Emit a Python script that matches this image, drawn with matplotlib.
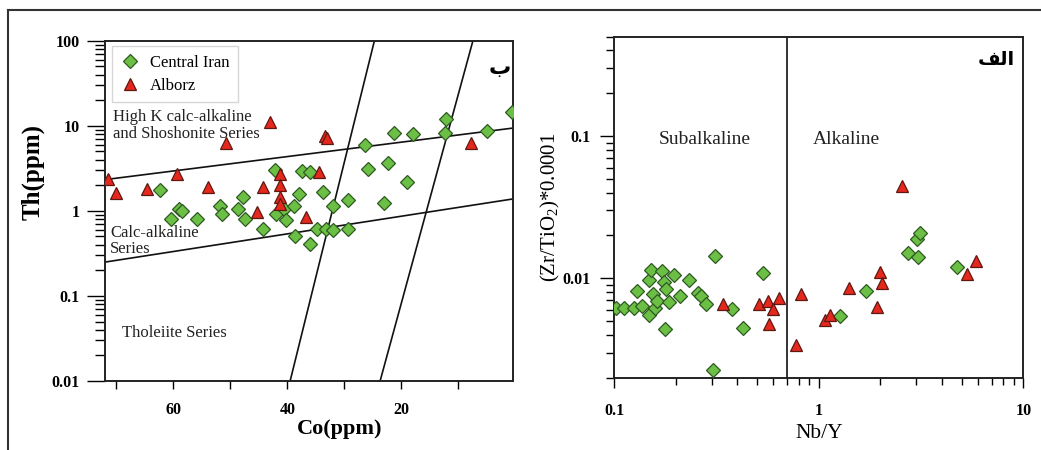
import matplotlib
matplotlib.use("Agg")
import matplotlib.pyplot as plt
from matplotlib.lines import Line2D
from matplotlib.ticker import FixedLocator, FixedFormatter, LogLocator, NullFormatter

plt.rcParams['font.family'] = ['Liberation Serif', 'DejaVu Sans']
plt.rcParams['mathtext.fontset'] = 'custom'
plt.rcParams['mathtext.rm'] = 'Liberation Serif'
plt.rcParams['mathtext.it'] = 'Liberation Serif:italic'

# ---- left panel: Th vs Co ----
ci_co = [62.4, 60.5, 59.1, 58.5, 55.8, 51.8, 51.5, 48.7, 47.8, 47.4, 44.3, 42.1, 42.0,
         40.5, 40.2, 38.9, 38.6, 37.9, 37.5, 36.0, 36.0, 34.8, 33.8, 33.2, 32.0, 31.9,
         29.4, 29.4, 26.4, 25.9, 23.1, 22.3, 21.3, 19.0, 18.0, 12.2, 12.3, 4.9, 0.5]
ci_th = [1.75, 0.81, 1.05, 1.0, 0.81, 1.15, 0.93, 1.05, 1.46, 0.81, 0.62, 3.05, 0.93,
         1.05, 0.79, 1.15, 0.50, 1.58, 2.92, 2.86, 0.41, 0.62, 1.66, 0.62, 0.60, 1.13,
         1.36, 0.62, 6.0, 3.1, 1.24, 3.65, 8.2, 2.19, 8.1, 12.1, 8.2, 8.6, 14.5]
al_co = [71.5, 70.1, 64.6, 59.4, 54.0, 50.8, 45.3, 44.2, 43.0, 41.3, 41.2, 41.3, 41.3,
         36.7, 34.5, 33.3, 33.0, 7.7]
al_th = [2.39, 1.63, 1.81, 2.74, 1.89, 6.2, 0.97, 1.89, 11.1, 2.74, 2.0, 1.46, 1.19,
         0.84, 2.86, 7.5, 7.2, 6.3]

# field boundaries (Co, Th end points)
bound_co = [[72, 0.4], [72, 0.4], [24.7, 39.5], [7.4, 23.7]]
bound_th = [[2.33, 9.4], [0.25, 1.38], [100, 0.01], [100, 0.01]]

co_ticks = [70, 60, 50, 40, 30, 20, 10]
co_labels = ["", "60", "", "40", "", "20", ""]
th_ticks = [0.01, 0.1, 1, 10, 100]
th_labels = ["0.01", "0.1", "1", "10", "100"]

# ---- right panel: Zr/TiO2 vs Nb/Y ----
ci_nby = [0.102, 0.111, 0.125, 0.129, 0.137, 0.147, 0.148, 0.152, 0.154, 0.158, 0.161,
          0.172, 0.175, 0.180, 0.186, 0.176, 0.196, 0.210, 0.233, 0.258, 0.266, 0.281,
          0.311, 0.303, 0.378, 0.428, 0.535, 1.27, 1.71, 2.74, 3.07, 3.03, 3.12, 4.75]
ci_zr = [0.00618, 0.00618, 0.0062, 0.0081, 0.00635, 0.00554, 0.00966, 0.0114, 0.00777,
         0.00618, 0.00689, 0.01127, 0.00946, 0.00834, 0.00682, 0.0044, 0.01054, 0.00756,
         0.00966, 0.00791, 0.00749, 0.00659, 0.01439, 0.00225, 0.0061, 0.0045, 0.01096,
         0.0054, 0.0082, 0.01496, 0.01415, 0.0189, 0.0207, 0.01202]
al_nby = [0.339, 0.512, 0.566, 0.600, 0.641, 0.573, 0.773, 0.815, 2.54, 1.07, 1.13, 1.41,
          1.99, 2.03, 1.92, 5.28, 5.87]
al_zr = [0.00659, 0.00659, 0.00697, 0.0061, 0.00728, 0.00475, 0.00339, 0.00777, 0.0446,
         0.0051, 0.00555, 0.00857, 0.01114, 0.0093, 0.00628, 0.01067, 0.01327]
nby_split = 0.7

green, green_edge = '#6cbf45', '#2e5a22'
red, red_edge = '#e4281d', '#5e1812'

fig = plt.figure(figsize=(10.41, 4.5), dpi=100)

# outer frame (left and top only)
fig.add_artist(Line2D([0.0077, 0.0077], [0, 0.978], color='#333333', lw=1.5))
fig.add_artist(Line2D([0.0077, 1], [0.978, 0.978], color='#333333', lw=1.5))

ax1 = fig.add_axes([0.1009, 0.1533, 0.3917, 0.7562])
ax1.set_yscale('log')
ax1.set_xlim(72, 0.4)
ax1.set_ylim(0.01, 100)
for bx, by in zip(bound_co, bound_th):
    ax1.plot(bx, by, color='#111111', lw=1.2, zorder=2)
ax1.plot(ci_co, ci_th, 'D', ms=7.3, mfc=green, mec=green_edge, mew=0.9, zorder=3,
         label='Central Iran')
ax1.plot(al_co, al_th, '^', ms=9.3, mfc=red, mec=red_edge, mew=0.9, zorder=4,
         label='Alborz')

ax1.xaxis.set_major_locator(FixedLocator(co_ticks))
ax1.xaxis.set_major_formatter(FixedFormatter(co_labels))
ax1.yaxis.set_major_locator(FixedLocator(th_ticks))
ax1.yaxis.set_major_formatter(FixedFormatter(th_labels))
ax1.yaxis.set_minor_locator(LogLocator(base=10, subs=range(2, 10)))
ax1.yaxis.set_minor_formatter(NullFormatter())
ax1.tick_params(axis='x', direction='out', length=6, width=1, pad=9, labelsize=11.5)
ax1.tick_params(axis='y', which='major', direction='out', length=13, width=1, pad=5,
                labelsize=11.5)
ax1.tick_params(axis='y', which='minor', direction='out', length=7, width=1)
for lab in ax1.get_xticklabels() + ax1.get_yticklabels():
    lab.set_fontweight('bold')
for sp in ax1.spines.values():
    sp.set_linewidth(1.4)
    sp.set_color('#222222')

ax1.set_xlabel('Co(ppm)', fontsize=16, fontweight='bold')
ax1.xaxis.set_label_coords(0.576, -0.112)
ax1.set_ylabel('Th(ppm)', fontsize=18, fontweight='bold')
ax1.yaxis.set_label_coords(-0.147, 0.614)

ax1.text(0.02, 0.751, 'High K calc-alkaline\nand Shoshonite Series', transform=ax1.transAxes,
         fontsize=12, va='center', ha='left', linespacing=1.05, color='#222222')
ax1.text(0.012, 0.411, 'Calc-alkaline\nSeries', transform=ax1.transAxes,
         fontsize=12, va='center', ha='left', linespacing=1.05, color='#222222')
ax1.text(0.042, 0.141, 'Tholeiite Series', transform=ax1.transAxes,
         fontsize=12, va='center', ha='left', color='#222222')
ax1.text(0.969, 0.92, '\u0628', transform=ax1.transAxes, fontsize=16, fontweight='bold',
         family=['DejaVu Sans'], va='center', ha='center')

leg = ax1.legend(loc='upper left', bbox_to_anchor=(0.017, 0.984), borderaxespad=0,
                 numpoints=1, fontsize=12, frameon=True, fancybox=False,
                 handlelength=1.2, handletextpad=0.6, borderpad=0.5, labelspacing=0.45)
leg.get_frame().set_edgecolor('#cccccc')
leg.get_frame().set_linewidth(1.0)

# ---- right panel ----
ax2 = fig.add_axes([0.5901, 0.1607, 0.3929, 0.7578])
ax2.set_xscale('log')
ax2.set_yscale('log')
ax2.set_xlim(0.1, 10)
ax2.set_ylim(0.002, 0.5)
ax2.axvline(nby_split, color='#111111', lw=1.2, zorder=2)
ax2.plot(ci_nby, ci_zr, 'D', ms=7.3, mfc=green, mec=green_edge, mew=0.9, zorder=3)
ax2.plot(al_nby, al_zr, '^', ms=9.3, mfc=red, mec=red_edge, mew=0.9, zorder=4)

ax2.xaxis.set_major_locator(FixedLocator([0.1, 1, 10]))
ax2.xaxis.set_major_formatter(FixedFormatter(["0.1", "1", "10"]))
ax2.xaxis.set_minor_locator(LogLocator(base=10, subs=range(2, 10)))
ax2.xaxis.set_minor_formatter(NullFormatter())
ax2.yaxis.set_major_locator(FixedLocator([0.01, 0.1]))
ax2.yaxis.set_major_formatter(FixedFormatter(["0.01", "0.1"]))
ax2.yaxis.set_minor_locator(LogLocator(base=10, subs=range(2, 10)))
ax2.yaxis.set_minor_formatter(NullFormatter())
ax2.tick_params(axis='x', which='major', direction='out', length=7, width=1, pad=11,
                labelsize=11.5)
ax2.tick_params(axis='x', which='minor', direction='out', length=5, width=1)
ax2.tick_params(axis='y', which='major', direction='out', length=10, width=1, pad=7,
                labelsize=11.5)
ax2.tick_params(axis='y', which='minor', direction='out', length=6, width=1)
for lab in ax2.get_xticklabels() + ax2.get_yticklabels():
    lab.set_fontweight('bold')
for sp in ax2.spines.values():
    sp.set_linewidth(1.4)
    sp.set_color('#222222')

ax2.set_xlabel('Nb/Y', fontsize=15.5)
ax2.xaxis.set_label_coords(0.5, -0.135)
ax2.set_ylabel(r'(Zr/TiO$_2$)*0.0001', fontsize=15)
ax2.yaxis.set_label_coords(-0.128, 0.5)

ax2.text(0.22, 0.699, 'Subalkaline', transform=ax2.transAxes, fontsize=14,
         va='center', ha='center', color='#222222')
ax2.text(0.568, 0.699, 'Alkaline', transform=ax2.transAxes, fontsize=14,
         va='center', ha='center', color='#222222')
# "alef-lam-feh" written with Arabic presentation forms (visual order)
ax2.text(0.933, 0.932, '\ufed2\ufedf\ufe8d', transform=ax2.transAxes, fontsize=14,
         fontweight='bold', family=['DejaVu Sans'], va='center', ha='center')

fig.savefig('out.png', dpi=100)
